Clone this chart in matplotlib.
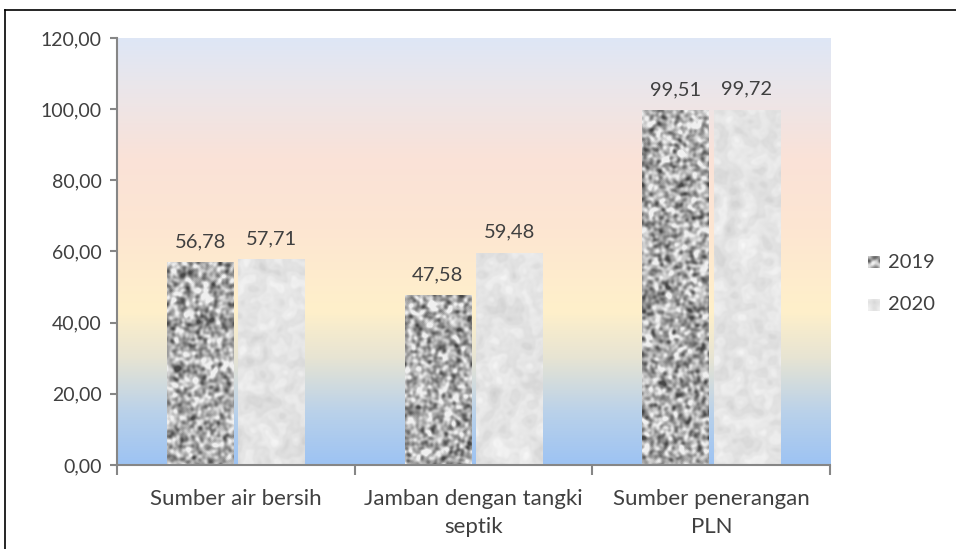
import numpy as np
import matplotlib.pyplot as plt
from matplotlib.colors import LinearSegmentedColormap
from matplotlib.lines import Line2D

plt.rcParams['font.family'] = ['Lato', 'DejaVu Sans']

categories = ['Sumber air bersih', 'Jamban dengan tangki\nseptik', 'Sumber penerangan\nPLN']
years = ['2019', '2020']
values_2019 = [56.78, 47.58, 99.51]
values_2020 = [57.71, 59.48, 99.72]
yticks = [0, 20, 40, 60, 80, 100, 120]

rng = np.random.default_rng(7)


def smooth(a, r):
    # cheap box blur via repeated rolls
    for _ in range(r):
        a = (a + np.roll(a, 1, 0) + np.roll(a, -1, 0) + np.roll(a, 1, 1) + np.roll(a, -1, 1)) / 5
    return a


def granite(h, w):
    n = smooth(rng.random((h, w)), 6)
    n = (n - n.mean()) / n.std()
    return np.clip(0.68 + 0.15 * n, 0.28, 0.94)


def marble(h, w):
    n = smooth(rng.random((h, w)), 30)
    n = (n - n.mean()) / n.std()
    fine = smooth(rng.random((h, w)), 4)
    fine = (fine - fine.mean()) / fine.std()
    yy, xx = np.mgrid[0:h, 0:w]
    veins = np.sin((xx * 0.8 + yy * 0.5) / 12.0 + 2.0 * n)
    v = 0.91 + 0.02 * n + 0.006 * fine - 0.035 * np.exp(-(veins ** 2) * 2)
    return np.clip(smooth(v, 2), 0.6, 0.97)


fig = plt.figure(figsize=(9.56, 5.49), dpi=100)
ax = fig.add_axes([0.1224, 0.153, 0.746, 0.778])

# background gradient of the plot area
stops = [(0.0, '#9dc3f3'), (0.12, '#b9d1ea'), (0.25, '#e7e4d3'), (0.36, '#fff0ca'),
         (0.55, '#fde6d2'), (0.72, '#fae2d8'), (0.88, '#ebe6ea'), (1.0, '#dee7f6')]
bg = LinearSegmentedColormap.from_list('bg', stops)
ax.imshow(np.linspace(0, 1, 256).reshape(-1, 1), cmap=bg, origin='lower', aspect='auto',
          extent=(-0.5, 2.5, 0, 120), zorder=0)

x = np.arange(len(categories))
w = 0.28
bars19 = ax.bar(x - 0.15, values_2019, w, facecolor='none', edgecolor='none', zorder=2)
bars20 = ax.bar(x + 0.15, values_2020, w, facecolor='none', edgecolor='none', zorder=2)

px_per_unit = 427 / 120
for bars, maker in ((bars19, granite), (bars20, marble)):
    for b in bars:
        h = max(int(round(b.get_height() * px_per_unit)), 2)
        tex = maker(h, 67)
        ax.imshow(tex, cmap='gray', vmin=0, vmax=1, aspect='auto', interpolation='bilinear',
                  extent=(b.get_x(), b.get_x() + b.get_width(), 0, b.get_height()), zorder=2)
        ax.annotate(f'{b.get_height():.2f}'.replace('.', ','),
                    (b.get_x() + b.get_width() / 2, b.get_height()),
                    xytext=(0, 9), textcoords='offset points', ha='center', va='bottom',
                    fontsize=14.5, color='#404040')

ax.set_xlim(-0.5, 2.5)
ax.set_ylim(0, 120)
ax.set_yticks(yticks)
ax.set_yticklabels([f'{v:.2f}'.replace('.', ',') for v in yticks])
ax.set_xticks([-0.5, 0.5, 1.5, 2.5])
ax.set_xticklabels([])
ax.set_xticks(x, minor=True)
ax.set_xticklabels(categories, minor=True, linespacing=1.5)
ax.tick_params(axis='x', which='minor', length=0, pad=17, labelsize=16, labelcolor='#404040')
ax.tick_params(axis='x', which='major', length=7, width=1.5, color='#868686', direction='out')
ax.tick_params(axis='y', length=5, width=1.5, color='#868686', labelsize=14, labelcolor='#404040', pad=6)
for s in ('top', 'right'):
    ax.spines[s].set_visible(False)
for s in ('left', 'bottom'):
    ax.spines[s].set_color('#868686')
    ax.spines[s].set_linewidth(1.5)

# legend swatches
for i, (yr, maker) in enumerate(zip(years, (granite, marble))):
    ypos = 1 - (262 + 43 * i) / 549
    sw = fig.add_axes([868 / 956, ypos - 6 / 549, 12 / 956, 12 / 549])
    sw.imshow(maker(12, 12), cmap='gray', vmin=0, vmax=1, interpolation='bilinear')
    sw.axis('off')
    fig.text(888 / 956, ypos, yr, fontsize=14.5, color='#404040', va='center', ha='left')

# outer frame on the left and top
fig.add_artist(Line2D([5 / 956, 5 / 956], [0, 1 - 10 / 549], color='black', lw=1.2))
fig.add_artist(Line2D([5 / 956, 1], [1 - 10 / 549, 1 - 10 / 549], color='black', lw=1.2))

fig.savefig('out.png', dpi=100)
